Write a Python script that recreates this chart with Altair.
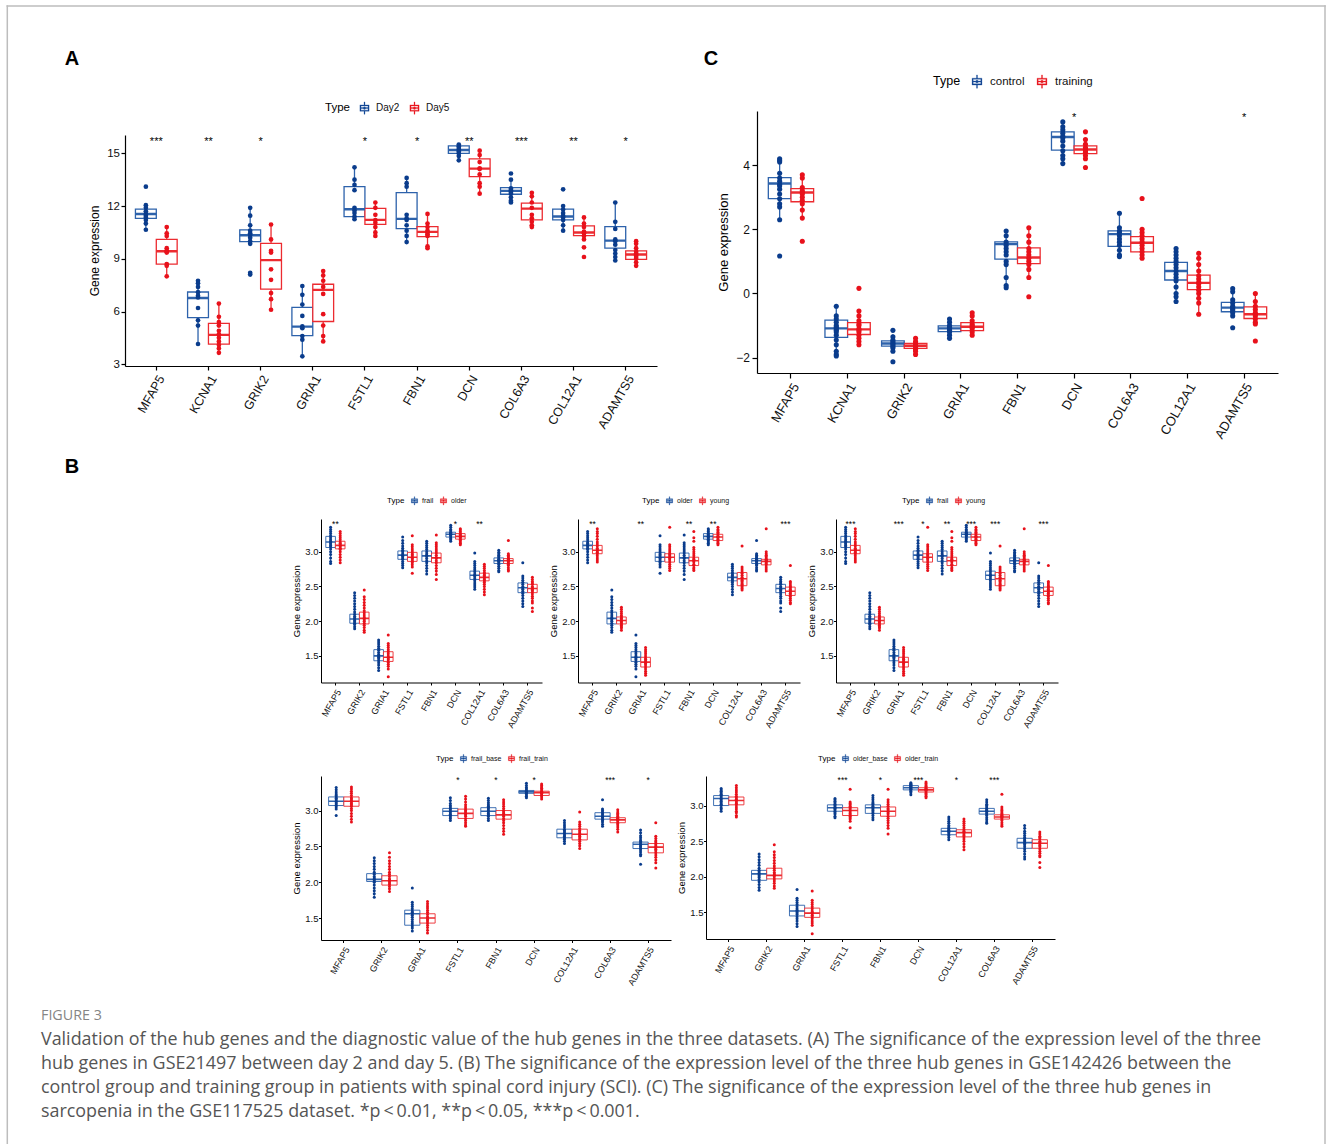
import altair as alt
import pandas as pd

FONT = "Liberation Sans"
CAP_FONT = "Open Sans"
BLUE_BOX, RED_BOX = "#2d62ab", "#ec2b30"
BLUE_PT, RED_PT = "#0a3c8c", "#e8111b"
FRAME = "#bdbdbd"
# boxplot key glyph drawn as filled shapes: box frame (with hole), median bar, whiskers and a dot
SYMBOL = ("M-0.75,-0.52H0.75V0.52H-0.75Z M-0.57,-0.34V0.34H0.57V-0.34Z "
          "M-0.57,-0.08H0.57V0.08H-0.57Z M-0.08,-1H0.08V-0.52H-0.08Z M-0.08,0.52H0.08V1H-0.08Z "
          "M0.22,0A0.22,0.22 0 1 1 -0.22,0A0.22,0.22 0 1 1 0.22,0Z")

# ---------------- Panel A (GSE21497) ----------------
A_genes = ["MFAP5", "KCNA1", "GRIK2", "GRIA1", "FSTL1", "FBN1", "DCN", "COL6A3", "COL12A1", "ADAMTS5"]
A_groups = ["Day2", "Day5"]
A_stars = ["***", "**", "*", "", "*", "*", "**", "***", "**", "*"]
# (lower whisker, q1, median, q3, upper whisker)
A_box = {
    "Day2": [(10.64, 11.3, 11.55, 11.82, 12.05), (4.16, 5.65, 6.77, 7.11, 7.8), (9.82, 9.98, 10.34, 10.64, 11.93),
             (3.44, 4.63, 5.14, 6.24, 7.51), (11.25, 11.4, 11.82, 13.1, 14.24), (9.98, 10.72, 11.27, 12.76, 13.64),
             (14.58, 15.0, 15.19, 15.42, 15.53), (12.19, 12.67, 12.86, 13.05, 13.5), (10.64, 11.21, 11.4, 11.82, 12.0),
             (8.93, 9.6, 10.03, 10.83, 12.21)],
    "Day5": [(8.02, 8.69, 9.43, 10.1, 10.87), (3.63, 4.14, 4.67, 5.33, 6.53), (6.09, 7.27, 8.92, 9.88, 11.0),
             (4.29, 5.43, 7.23, 7.55, 8.36), (10.26, 10.96, 11.21, 11.87, 12.25), (9.56, 10.26, 10.53, 10.83, 11.59),
             (12.69, 13.67, 14.13, 14.68, 15.19), (10.77, 11.21, 11.85, 12.16, 12.82), (10.07, 10.32, 10.49, 10.87, 11.4),
             (8.55, 8.97, 9.24, 9.45, 10.07)],
}
A_pts = {
    "Day2": [[13.1, 12.05, 11.9, 11.7, 11.55, 11.45, 11.35, 11.2, 11.0, 10.65],
             [7.75, 7.6, 7.4, 7.1, 6.9, 6.8, 6.2, 5.5, 5.2, 4.15],
             [11.9, 11.45, 10.9, 10.6, 10.45, 10.35, 10.2, 10.0, 9.85, 8.2, 8.1],
             [7.45, 6.95, 6.4, 5.75, 5.15, 5.05, 4.6, 4.4, 3.45],
             [14.2, 13.5, 13.2, 12.9, 11.9, 11.75, 11.6, 11.4, 11.25],
             [13.6, 13.3, 13.1, 11.5, 11.3, 11.2, 10.9, 10.6, 10.3, 9.95],
             [15.5, 15.4, 15.3, 15.2, 15.1, 15.0, 14.85, 14.6],
             [13.85, 13.5, 13.0, 12.9, 12.8, 12.7, 12.5, 12.3, 12.2],
             [12.95, 12.0, 11.8, 11.6, 11.45, 11.35, 11.2, 10.9, 10.6],
             [12.2, 11.1, 10.7, 10.1, 10.0, 9.8, 9.5, 9.3, 9.1, 8.9]],
    "Day5": [[10.8, 10.45, 10.3, 9.6, 9.45, 9.4, 9.35, 8.7, 8.6, 8.0],
             [6.45, 5.7, 5.4, 5.2, 4.9, 4.7, 4.5, 4.3, 4.1, 3.9, 3.65],
             [10.95, 10.1, 9.45, 9.35, 8.4, 7.8, 7.05, 6.7, 6.1],
             [8.3, 8.05, 7.75, 7.4, 7.0, 5.85, 5.2, 4.6, 4.3],
             [12.2, 11.9, 11.5, 11.2, 11.05, 10.8, 10.5, 10.3],
             [11.55, 11.0, 10.8, 10.6, 10.5, 10.4, 10.3, 9.7, 9.6],
             [15.15, 14.9, 14.5, 14.15, 14.1, 13.8, 13.3, 13.1, 12.7],
             [12.75, 12.55, 12.2, 11.9, 11.5, 11.3, 11.1, 10.9, 10.8],
             [11.35, 11.0, 10.8, 10.55, 10.45, 10.3, 10.1, 9.65, 9.1],
             [10.0, 9.85, 9.6, 9.4, 9.3, 9.2, 9.1, 9.0, 8.8, 8.6]],
}
A_yticks = [3, 6, 9, 12, 15]

# ---------------- Panel C (GSE117525) ----------------
C_genes = ["MFAP5", "KCNA1", "GRIK2", "GRIA1", "FBN1", "DCN", "COL6A3", "COL12A1", "ADAMTS5"]
C_groups = ["control", "training"]
C_stars = ["", "", "", "", "", "*", "", "", "*"]
C_box = {
    "control": [(2.28, 2.96, 3.43, 3.61, 4.2), (-1.95, -1.37, -1.09, -0.83, -0.38), (-1.82, -1.64, -1.56, -1.48, -1.27),
                (-1.43, -1.19, -1.09, -1.01, -0.78), (0.16, 1.07, 1.54, 1.61, 1.97), (4.05, 4.47, 4.88, 5.04, 5.38),
                (1.14, 1.47, 1.85, 1.95, 2.51), (-0.26, 0.42, 0.7, 0.97, 1.42), (-0.7, -0.57, -0.44, -0.28, 0.16)],
    "training": [(2.37, 2.86, 3.15, 3.27, 3.76), (-1.61, -1.28, -1.12, -0.91, -0.55), (-1.92, -1.71, -1.63, -1.56, -1.37),
                 (-1.33, -1.16, -1.04, -0.91, -0.57), (0.5, 0.93, 1.12, 1.42, 2.08), (4.2, 4.36, 4.49, 4.6, 4.81),
                 (1.09, 1.3, 1.58, 1.77, 2.06), (-0.62, 0.12, 0.33, 0.57, 1.27), (-0.96, -0.78, -0.65, -0.42, 0.0)],
}
C_pts = {
    "control": [[4.2, 4.15, 4.1, 3.75, 3.6, 3.5, 3.4, 3.35, 3.25, 3.1, 2.95, 2.8, 2.7, 2.3, 1.17],
                [-0.4, -0.7, -0.8, -0.9, -1.0, -1.05, -1.1, -1.15, -1.2, -1.3, -1.45, -1.6, -1.8, -1.9, -1.95],
                [-1.15, -1.35, -1.45, -1.5, -1.55, -1.6, -1.65, -1.7, -1.8, -2.13],
                [-0.8, -0.9, -1.0, -1.05, -1.1, -1.15, -1.2, -1.3, -1.4],
                [1.95, 1.8, 1.6, 1.5, 1.4, 1.3, 1.2, 1.0, 0.9, 0.5, 0.25, 0.18],
                [5.35, 5.2, 5.1, 5.0, 4.9, 4.85, 4.75, 4.6, 4.45, 4.3, 4.2, 4.05],
                [2.5, 2.05, 1.95, 1.9, 1.8, 1.7, 1.6, 1.5, 1.35, 1.2, 1.15],
                [1.4, 1.3, 1.2, 1.1, 1.0, 0.9, 0.8, 0.7, 0.6, 0.5, 0.4, 0.2, 0.0, -0.1, -0.25],
                [0.15, 0.05, -0.2, -0.3, -0.4, -0.45, -0.5, -0.55, -0.6, -0.7, -1.07]],
    "training": [[3.7, 3.6, 3.3, 3.2, 3.15, 3.1, 3.0, 2.9, 2.8, 2.6, 2.35, 1.63],
                 [0.16, -0.55, -0.7, -0.85, -0.95, -1.0, -1.1, -1.15, -1.2, -1.3, -1.4, -1.5, -1.6],
                 [-1.4, -1.5, -1.55, -1.6, -1.65, -1.7, -1.75, -1.8, -1.9],
                 [-0.6, -0.7, -0.85, -0.95, -1.0, -1.05, -1.1, -1.2, -1.3],
                 [2.05, 1.8, 1.6, 1.4, 1.3, 1.2, 1.1, 1.0, 0.9, 0.75, 0.5, -0.1],
                 [5.04, 4.8, 4.65, 4.55, 4.5, 4.45, 4.4, 4.3, 4.2, 3.93],
                 [2.96, 2.0, 1.9, 1.8, 1.7, 1.6, 1.5, 1.4, 1.3, 1.2, 1.1],
                 [1.25, 1.1, 0.9, 0.7, 0.55, 0.45, 0.35, 0.3, 0.2, 0.1, 0.0, -0.15, -0.3, -0.65],
                 [0.0, -0.25, -0.4, -0.5, -0.6, -0.65, -0.7, -0.8, -0.9, -0.95, -1.48]],
}
C_yticks = [-2, 0, 2, 4]

# ---------------- Panel B (GSE142426) ----------------
B_genes = ["MFAP5", "GRIK2", "GRIA1", "FSTL1", "FBN1", "DCN", "COL12A1", "COL6A3", "ADAMTS5"]
B_yticks = [1.5, 2.0, 2.5, 3.0]
B_box = {
    "frail": [(2.83, 3.06, 3.14, 3.22, 3.35), (1.88, 1.97, 2.03, 2.1, 2.26), (1.29, 1.43, 1.5, 1.59, 1.73),
              (2.78, 2.89, 2.95, 3.01, 3.16), (2.67, 2.86, 2.94, 3.01, 3.15), (3.15, 3.21, 3.25, 3.28, 3.38),
              (2.46, 2.6, 2.66, 2.72, 2.86), (2.71, 2.83, 2.87, 2.91, 3.02), (2.21, 2.41, 2.48, 2.55, 2.65)],
    "older": [(2.84, 3.04, 3.09, 3.15, 3.29), (1.84, 1.96, 2.04, 2.13, 2.35), (1.3, 1.42, 1.48, 1.56, 1.68),
              (2.78, 2.86, 2.92, 2.99, 3.1), (2.67, 2.84, 2.91, 2.98, 3.13), (3.1, 3.18, 3.22, 3.26, 3.33),
              (2.38, 2.58, 2.63, 2.69, 2.82), (2.72, 2.83, 2.87, 2.9, 2.97), (2.26, 2.41, 2.47, 2.53, 2.63)],
    "young": [(2.85, 2.97, 3.02, 3.09, 3.26), (1.87, 1.96, 2.01, 2.06, 2.2), (1.22, 1.34, 1.41, 1.48, 1.62),
              (2.73, 2.85, 2.92, 2.97, 3.1), (2.73, 2.8, 2.87, 2.92, 3.06), (3.1, 3.16, 3.21, 3.25, 3.35),
              (2.45, 2.51, 2.61, 2.7, 2.78), (2.72, 2.81, 2.86, 2.89, 3.0), (2.25, 2.37, 2.43, 2.49, 2.57)],
    "frail_base": [(3.02, 3.07, 3.13, 3.19, 3.32), (1.79, 2.01, 2.04, 2.12, 2.34), (1.32, 1.4, 1.56, 1.61, 1.72),
                   (2.86, 2.93, 2.99, 3.03, 3.18), (2.86, 2.93, 2.99, 3.04, 3.17), (3.18, 3.24, 3.26, 3.28, 3.38),
                   (2.54, 2.62, 2.68, 2.74, 2.86), (2.78, 2.88, 2.92, 2.97, 3.02), (2.37, 2.47, 2.53, 2.56, 2.73)],
    "frail_train": [(2.84, 3.06, 3.13, 3.19, 3.33), (1.87, 1.96, 2.02, 2.09, 2.3), (1.29, 1.43, 1.5, 1.56, 1.73),
                    (2.78, 2.89, 2.96, 3.02, 3.2), (2.67, 2.88, 2.94, 3.0, 3.15), (3.16, 3.21, 3.25, 3.27, 3.37),
                    (2.47, 2.59, 2.67, 2.74, 2.84), (2.7, 2.83, 2.87, 2.9, 3.01), (2.27, 2.41, 2.49, 2.54, 2.64)],
    "older_base": [(2.92, 3.0, 3.1, 3.14, 3.24), (1.81, 1.95, 2.04, 2.09, 2.32), (1.3, 1.45, 1.52, 1.6, 1.7),
                   (2.83, 2.92, 2.97, 3.01, 3.1), (2.8, 2.89, 2.97, 3.01, 3.14), (3.15, 3.22, 3.25, 3.28, 3.32),
                   (2.52, 2.59, 2.64, 2.68, 2.84), (2.75, 2.88, 2.92, 2.96, 3.08), (2.25, 2.4, 2.48, 2.54, 2.72)],
    "older_train": [(2.9, 3.01, 3.07, 3.12, 3.28), (1.84, 1.97, 2.02, 2.12, 2.35), (1.3, 1.43, 1.49, 1.56, 1.67),
                    (2.78, 2.86, 2.93, 2.97, 3.05), (2.68, 2.85, 2.92, 2.98, 3.08), (3.11, 3.19, 3.22, 3.25, 3.33),
                    (2.38, 2.56, 2.62, 2.66, 2.81), (2.71, 2.81, 2.84, 2.87, 2.98), (2.28, 2.4, 2.47, 2.52, 2.63)],
}
B_pts = {
    "frail": [[3.35, 3.32, 3.29, 3.26, 3.23, 3.2, 3.17, 3.15, 3.13, 3.11, 3.09, 3.07, 3.04, 3.0, 2.96, 2.91, 2.86, 2.83],
              [2.41, 2.37, 2.33, 2.29, 2.25, 2.21, 2.17, 2.13, 2.1, 2.07, 2.05, 2.03, 2.01, 1.99, 1.97, 1.95, 1.92, 1.89],
              [1.73, 1.7, 1.67, 1.64, 1.61, 1.58, 1.55, 1.52, 1.5, 1.48, 1.46, 1.43, 1.4, 1.37, 1.33, 1.29],
              [3.21, 3.16, 3.12, 3.08, 3.05, 3.02, 3.0, 2.97, 2.95, 2.93, 2.91, 2.89, 2.86, 2.83, 2.8, 2.77],
              [3.15, 3.12, 3.09, 3.06, 3.03, 3.0, 2.97, 2.95, 2.93, 2.9, 2.87, 2.84, 2.8, 2.76, 2.72, 2.68],
              [3.38, 3.35, 3.32, 3.3, 3.28, 3.27, 3.26, 3.25, 3.24, 3.23, 3.21, 3.19, 3.17, 3.15],
              [2.98, 2.86, 2.83, 2.8, 2.77, 2.74, 2.71, 2.68, 2.66, 2.64, 2.61, 2.58, 2.55, 2.52, 2.49, 2.46],
              [3.02, 2.99, 2.97, 2.95, 2.93, 2.91, 2.89, 2.88, 2.87, 2.86, 2.84, 2.82, 2.79, 2.76, 2.73, 2.71],
              [2.84, 2.65, 2.62, 2.59, 2.56, 2.53, 2.5, 2.48, 2.46, 2.43, 2.4, 2.37, 2.33, 2.29, 2.25, 2.21]],
    "older": [[3.29, 3.26, 3.23, 3.2, 3.17, 3.14, 3.12, 3.1, 3.09, 3.07, 3.05, 3.03, 3.0, 2.96, 2.92, 2.88, 2.84],
              [2.45, 2.35, 2.31, 2.27, 2.23, 2.19, 2.15, 2.12, 2.09, 2.06, 2.04, 2.02, 2.0, 1.97, 1.94, 1.91, 1.87, 1.84],
              [1.8, 1.68, 1.65, 1.62, 1.59, 1.56, 1.53, 1.5, 1.48, 1.46, 1.44, 1.41, 1.38, 1.35, 1.31, 1.2],
              [3.23, 3.1, 3.07, 3.04, 3.01, 2.98, 2.96, 2.94, 2.92, 2.9, 2.88, 2.86, 2.84, 2.81, 2.78, 2.69],
              [3.24, 3.13, 3.1, 3.07, 3.04, 3.01, 2.98, 2.95, 2.92, 2.9, 2.87, 2.84, 2.8, 2.76, 2.72, 2.67, 2.6],
              [3.33, 3.31, 3.29, 3.27, 3.25, 3.23, 3.22, 3.21, 3.2, 3.18, 3.16, 3.14, 3.12, 3.1],
              [2.82, 2.79, 2.76, 2.73, 2.7, 2.68, 2.66, 2.64, 2.62, 2.6, 2.58, 2.56, 2.53, 2.5, 2.46, 2.42, 2.38],
              [3.16, 2.97, 2.95, 2.93, 2.91, 2.9, 2.89, 2.88, 2.87, 2.86, 2.84, 2.82, 2.8, 2.77, 2.74, 2.72],
              [2.63, 2.6, 2.57, 2.55, 2.53, 2.5, 2.48, 2.46, 2.44, 2.42, 2.39, 2.36, 2.33, 2.29, 2.26, 2.19, 2.14]],
    "young": [[3.33, 3.29, 3.26, 3.22, 3.18, 3.14, 3.11, 3.08, 3.05, 3.03, 3.01, 2.99, 2.97, 2.94, 2.91, 2.88, 2.85],
              [2.2, 2.17, 2.14, 2.11, 2.08, 2.06, 2.04, 2.02, 2.0, 1.98, 1.96, 1.94, 1.92, 1.9, 1.87],
              [1.62, 1.59, 1.56, 1.53, 1.5, 1.47, 1.45, 1.43, 1.41, 1.39, 1.37, 1.34, 1.31, 1.28, 1.25, 1.22],
              [3.35, 3.1, 3.07, 3.04, 3.01, 2.98, 2.96, 2.94, 2.92, 2.9, 2.88, 2.85, 2.82, 2.79, 2.76, 2.73],
              [3.29, 3.2, 3.15, 3.06, 3.03, 3.0, 2.97, 2.94, 2.91, 2.89, 2.87, 2.85, 2.82, 2.8, 2.77, 2.75, 2.73],
              [3.35, 3.32, 3.3, 3.28, 3.26, 3.24, 3.22, 3.21, 3.2, 3.18, 3.16, 3.14, 3.12, 3.1],
              [3.08, 2.78, 2.75, 2.72, 2.69, 2.66, 2.63, 2.61, 2.59, 2.57, 2.55, 2.53, 2.51, 2.49, 2.47, 2.45],
              [3.33, 3.0, 2.97, 2.95, 2.93, 2.91, 2.89, 2.88, 2.87, 2.86, 2.85, 2.83, 2.81, 2.78, 2.75, 2.72],
              [2.8, 2.57, 2.55, 2.52, 2.5, 2.48, 2.46, 2.44, 2.42, 2.4, 2.38, 2.36, 2.33, 2.3, 2.27, 2.25]],
    "frail_base": [[3.32, 3.29, 3.26, 3.23, 3.21, 3.19, 3.17, 3.15, 3.13, 3.11, 3.09, 3.07, 3.05, 3.02, 2.93],
                   [2.34, 2.3, 2.26, 2.22, 2.18, 2.14, 2.11, 2.08, 2.06, 2.04, 2.02, 2.0, 1.96, 1.92, 1.88, 1.84, 1.79],
                   [1.92, 1.72, 1.69, 1.66, 1.63, 1.6, 1.58, 1.56, 1.54, 1.51, 1.48, 1.45, 1.42, 1.39, 1.36, 1.32],
                   [3.18, 3.14, 3.1, 3.07, 3.05, 3.03, 3.01, 2.99, 2.97, 2.95, 2.93, 2.91, 2.89, 2.86],
                   [3.17, 3.14, 3.11, 3.08, 3.06, 3.04, 3.02, 3.0, 2.98, 2.96, 2.94, 2.92, 2.89, 2.86],
                   [3.38, 3.35, 3.32, 3.3, 3.28, 3.27, 3.26, 3.25, 3.24, 3.22, 3.2, 3.18],
                   [2.86, 2.83, 2.8, 2.77, 2.74, 2.72, 2.7, 2.68, 2.66, 2.64, 2.62, 2.6, 2.57, 2.54],
                   [3.15, 3.02, 3.0, 2.98, 2.96, 2.94, 2.92, 2.91, 2.9, 2.88, 2.86, 2.84, 2.81, 2.78],
                   [2.73, 2.69, 2.65, 2.62, 2.59, 2.57, 2.55, 2.53, 2.51, 2.49, 2.47, 2.45, 2.42, 2.39, 2.37, 2.25]],
    "frail_train": [[3.33, 3.3, 3.27, 3.24, 3.21, 3.18, 3.16, 3.14, 3.12, 3.1, 3.08, 3.06, 3.03, 3.0, 2.96, 2.92, 2.88, 2.84],
                    [2.41, 2.35, 2.3, 2.26, 2.22, 2.18, 2.14, 2.11, 2.08, 2.05, 2.03, 2.01, 1.99, 1.97, 1.94, 1.91, 1.87],
                    [1.73, 1.7, 1.67, 1.64, 1.61, 1.58, 1.55, 1.52, 1.5, 1.48, 1.46, 1.43, 1.4, 1.37, 1.33, 1.29],
                    [3.2, 3.16, 3.12, 3.08, 3.05, 3.02, 3.0, 2.98, 2.96, 2.94, 2.92, 2.89, 2.86, 2.83, 2.8, 2.78],
                    [3.15, 3.12, 3.09, 3.06, 3.03, 3.0, 2.98, 2.96, 2.94, 2.92, 2.89, 2.86, 2.83, 2.79, 2.75, 2.71, 2.67],
                    [3.37, 3.35, 3.33, 3.31, 3.29, 3.27, 3.26, 3.25, 3.24, 3.23, 3.21, 3.19, 3.16],
                    [2.98, 2.84, 2.81, 2.78, 2.75, 2.72, 2.7, 2.68, 2.66, 2.64, 2.62, 2.6, 2.57, 2.54, 2.51, 2.47],
                    [3.01, 2.98, 2.96, 2.94, 2.92, 2.9, 2.89, 2.88, 2.87, 2.86, 2.84, 2.82, 2.8, 2.77, 2.74, 2.7],
                    [2.83, 2.64, 2.61, 2.58, 2.56, 2.54, 2.52, 2.5, 2.48, 2.46, 2.44, 2.41, 2.38, 2.35, 2.31, 2.27, 2.2]],
    "older_base": [[3.24, 3.22, 3.2, 3.18, 3.16, 3.14, 3.12, 3.1, 3.08, 3.06, 3.04, 3.02, 3.0, 2.97, 2.95, 2.92],
                   [2.32, 2.28, 2.24, 2.2, 2.16, 2.12, 2.09, 2.07, 2.05, 2.03, 2.01, 1.99, 1.96, 1.93, 1.89, 1.85, 1.81],
                   [1.82, 1.7, 1.67, 1.64, 1.61, 1.58, 1.55, 1.53, 1.51, 1.49, 1.47, 1.44, 1.41, 1.38, 1.34, 1.3],
                   [3.1, 3.08, 3.06, 3.04, 3.02, 3.0, 2.98, 2.97, 2.96, 2.94, 2.92, 2.9, 2.88, 2.85, 2.83],
                   [3.14, 3.11, 3.08, 3.05, 3.03, 3.01, 2.99, 2.97, 2.95, 2.93, 2.91, 2.89, 2.86, 2.83, 2.8],
                   [3.32, 3.31, 3.3, 3.29, 3.28, 3.27, 3.26, 3.25, 3.24, 3.23, 3.22, 3.2, 3.18, 3.15],
                   [2.84, 2.81, 2.78, 2.75, 2.72, 2.7, 2.68, 2.66, 2.65, 2.64, 2.62, 2.6, 2.58, 2.55, 2.52],
                   [3.08, 3.05, 3.02, 3.0, 2.98, 2.96, 2.94, 2.93, 2.92, 2.9, 2.88, 2.86, 2.83, 2.8, 2.77, 2.75],
                   [2.72, 2.68, 2.64, 2.61, 2.58, 2.55, 2.53, 2.51, 2.49, 2.47, 2.45, 2.42, 2.39, 2.36, 2.32, 2.28, 2.25]],
    "older_train": [[3.28, 3.25, 3.22, 3.19, 3.16, 3.13, 3.11, 3.09, 3.07, 3.05, 3.03, 3.01, 2.98, 2.95, 2.92, 2.9, 2.86, 2.84],
                    [2.45, 2.35, 2.31, 2.27, 2.23, 2.19, 2.15, 2.12, 2.09, 2.06, 2.04, 2.02, 2.0, 1.97, 1.94, 1.91, 1.87, 1.84],
                    [1.8, 1.67, 1.64, 1.61, 1.58, 1.55, 1.52, 1.5, 1.48, 1.46, 1.44, 1.41, 1.38, 1.35, 1.32, 1.2],
                    [3.23, 3.05, 3.03, 3.01, 2.99, 2.97, 2.95, 2.93, 2.91, 2.89, 2.87, 2.85, 2.83, 2.81, 2.78, 2.69],
                    [3.23, 3.08, 3.05, 3.02, 2.99, 2.96, 2.94, 2.92, 2.9, 2.88, 2.85, 2.82, 2.79, 2.76, 2.72, 2.68, 2.6],
                    [3.33, 3.31, 3.29, 3.27, 3.25, 3.24, 3.23, 3.22, 3.21, 3.19, 3.17, 3.15, 3.13, 3.11],
                    [2.81, 2.78, 2.75, 2.72, 2.69, 2.66, 2.64, 2.62, 2.6, 2.58, 2.56, 2.53, 2.5, 2.46, 2.42, 2.38],
                    [3.16, 2.98, 2.95, 2.93, 2.91, 2.89, 2.87, 2.86, 2.85, 2.84, 2.83, 2.81, 2.79, 2.76, 2.73, 2.71],
                    [2.63, 2.6, 2.57, 2.55, 2.53, 2.5, 2.48, 2.46, 2.44, 2.42, 2.39, 2.36, 2.33, 2.3, 2.28, 2.2, 2.13]],
}
B_stars = {
    "B1": ["**", "", "", "", "", "*", "**", "", ""],
    "B2": ["**", "", "**", "", "**", "**", "", "", "***"],
    "B3": ["***", "", "***", "*", "**", "***", "***", "", "***"],
    "B4": ["", "", "", "*", "*", "*", "", "***", "*"],
    "B5": ["", "", "", "***", "*", "***", "*", "***", ""],
}

FIG_LABEL = "FIGURE 3"
CAPTION = [
    "Validation of the hub genes and the diagnostic value of the hub genes in the three datasets. (A) The significance of the expression level of the three",
    "hub genes in GSE21497 between day 2 and day 5. (B) The significance of the expression level of the three hub genes in GSE142426 between the",
    "control group and training group in patients with spinal cord injury (SCI). (C) The significance of the expression level of the three hub genes in",
    "sarcopenia in the GSE117525 dataset. *p\u2009<\u20090.01, **p\u2009<\u20090.05, ***p\u2009<\u20090.001.",
]

STYLE_A = dict(cat=12.5, ytick=11.5, title=12, tick=4, aw=1.2, lpad=3, ypad=1.5, tpad=5, sw=1.3, msw=2.4, ps=22,
               star=11, ltitle=11.5, llabel=10, lsym=150, ltp=8, loff=5, lcol=8)
STYLE_C = dict(cat=13, ytick=12, title=13, tick=5, aw=1.2, lpad=3, ypad=2.5, tpad=5.5, sw=1.3, msw=2.4, ps=26,
               star=11, ltitle=12.5, llabel=11.5, lsym=175, ltp=9, loff=6, lcol=10)
STYLE_B = dict(cat=9, ytick=9.5, title=9.5, tick=2.5, aw=1.0, lpad=3, ypad=0.5, tpad=3.5, sw=0.9, msw=1.6, ps=9,
               star=8.5, ltitle=8, llabel=7, lsym=70, ltp=5, loff=3, lcol=5)


def panel(genes, groups, box, pts, stars, w, h, ydom, yticks, yfmt, st, leg_xy, star_y, extras=(), yrange=None):
    bdf = pd.DataFrame([dict(gene=gn, grp=g, lo=s[0], q1=s[1], med=s[2], q3=s[3], hi=s[4])
                        for g in groups for gn, s in zip(genes, box[g])])
    pdf = pd.DataFrame([dict(gene=gn, grp=g, val=v)
                        for g in groups for gn, vals in zip(genes, pts[g]) for v in vals])
    sdf = pd.DataFrame({"gene": genes, "star": stars})
    xax = alt.Axis(title=None, labelAngle=300, labelAlign="right", labelBaseline="top", labelFont=FONT,
                   labelFontSize=st["cat"], labelColor="#111111", labelPadding=st["lpad"], tickSize=st["tick"],
                   tickColor="black", tickWidth=st["aw"], domainColor="black", domainWidth=st["aw"], grid=False)
    X = alt.X("gene:N", sort=genes, scale=alt.Scale(domain=genes, paddingInner=0, paddingOuter=0.1), axis=xax)
    XO = alt.XOffset("grp:N", sort=groups, scale=alt.Scale(domain=groups, paddingInner=0, paddingOuter=0.25))
    if yrange is None:
        ysc = alt.Scale(domain=ydom, nice=False, zero=False)
    else:
        ysc = alt.Scale(domain=ydom, nice=False, zero=False, range=yrange)
    yax = alt.Axis(values=yticks, format=yfmt, title="Gene expression", titleFont=FONT, titleFontSize=st["title"],
                   titleFontWeight="normal", titleColor="black", titlePadding=st["tpad"], labelFont=FONT,
                   labelFontSize=st["ytick"], labelColor="#111111", labelPadding=st["ypad"], tickSize=st["tick"],
                   tickColor="black", tickWidth=st["aw"], domainColor="black", domainWidth=st["aw"], grid=False)
    leg = alt.Legend(orient="none", legendX=leg_xy[0], legendY=leg_xy[1], direction="horizontal", title="Type",
                     titleOrient="left", titleFont=FONT, titleFontSize=st["ltitle"], titleFontWeight="normal",
                     titleColor="black", titlePadding=st["ltp"], labelFont=FONT, labelFontSize=st["llabel"],
                     labelColor="#111111", labelOffset=st["loff"], columnPadding=st["lcol"], symbolType=SYMBOL,
                     symbolSize=st["lsym"], symbolStrokeWidth=0.3)
    sscale = alt.Scale(domain=groups, range=[BLUE_BOX, RED_BOX])
    base = alt.Chart(bdf)
    whisk = base.mark_rule(strokeWidth=st["sw"]).encode(
        x=X, xOffset=XO, y=alt.Y("lo:Q", scale=ysc, axis=yax), y2="hi:Q",
        stroke=alt.Stroke("grp:N", scale=sscale, legend=leg))
    boxes = base.mark_bar(fill="white", strokeWidth=st["sw"]).encode(
        x=X, xOffset=XO, y=alt.Y("q1:Q", scale=ysc, axis=yax), y2="q3:Q",
        stroke=alt.Stroke("grp:N", scale=sscale, legend=None))
    meds = base.mark_bar(fillOpacity=0, strokeWidth=st["msw"]).encode(
        x=X, xOffset=XO, y=alt.Y("med:Q", scale=ysc, axis=yax), y2="med:Q",
        stroke=alt.Stroke("grp:N", scale=sscale, legend=None))
    dots = alt.Chart(pdf).mark_circle(size=st["ps"], opacity=1).encode(
        x=X, xOffset=XO, y=alt.Y("val:Q", scale=ysc, axis=yax),
        color=alt.Color("grp:N", scale=alt.Scale(domain=groups, range=[BLUE_PT, RED_PT]), legend=None))
    txt = alt.Chart(sdf).mark_text(font=FONT, fontSize=st["star"], color="black", baseline="middle").encode(
        x=X, y=alt.value(star_y), text="star:N")
    return alt.layer(whisk, boxes, meds, dots, txt, *extras).properties(width=w, height=h)


def letter(t, x, y):
    return alt.Chart(pd.DataFrame({"t": [t]})).mark_text(
        font=FONT, fontSize=20, fontWeight="bold", color="black", align="center", baseline="middle"
    ).encode(x=alt.value(x), y=alt.value(y), text="t:N")


def spacer(w, h):
    return alt.Chart(pd.DataFrame({"s": [0]})).mark_point(opacity=0).properties(width=w, height=h)


ONE = pd.DataFrame({"f": [0]})
FR_L, FR_R, FR_T, FR_W = 7.3, 1325, 6, 1.5


def rect(x, x2, y, y2, **kw):
    return alt.Chart(ONE).mark_rect(**kw).encode(
        x=alt.value(x), x2=alt.value(x2), y=alt.value(y), y2=alt.value(y2))


def band(ox, oy, top, bot, with_top=False):
    """Invisible extent of one row plus its share of the figure frame (relative to the row origin)."""
    t = max(top, FR_T - FR_W / 2)
    items = [
        rect(-ox, 1333 - ox, top - oy, bot - oy, opacity=0),
        rect(FR_L - FR_W / 2 - ox, FR_L + FR_W / 2 - ox, t - oy, bot - oy, fill=FRAME),
        rect(FR_R - FR_W / 2 - ox, FR_R + FR_W / 2 - ox, t - oy, bot - oy, fill=FRAME),
    ]
    if with_top:
        items.append(rect(FR_L - FR_W / 2 - ox, FR_R + FR_W / 2 - ox, FR_T - FR_W / 2 - oy, FR_T + FR_W / 2 - oy,
                          fill=FRAME))
    return items


RES = dict(x="independent", y="independent", xOffset="independent", color="independent", stroke="independent")

# row 1 : A and C  (row origin = top-left of panel A's view, at the top of panel C's plot)
pA = panel(A_genes, A_groups, A_box, A_pts, A_stars, 532, 255, [2.9, 16.04], A_yticks, "d", STYLE_A,
           (200, -9.8), 31, yrange=[255, 24],
           extras=[letter("A", -53, -52)] + band(125, 111, 0, 450, with_top=True))
pC = panel(C_genes, C_groups, C_box, C_pts, C_stars, 521, 262, [-2.48, 5.69], C_yticks, "d", STYLE_C,
           (176, -36.8), 7, extras=(letter("C", -46, -52),))

B_dom = [1.117, 3.47]
pB1 = panel(B_genes, ["frail", "older"], B_box, B_pts, B_stars["B1"], 221, 163.5, B_dom, B_yticks, ".1f", STYLE_B,
            (66, -23), 4.7, extras=[letter("B", -249, -52)] + band(321, 519, 450, 737))
pB2 = panel(B_genes, ["older", "young"], B_box, B_pts, B_stars["B2"], 222, 163.5, B_dom, B_yticks, ".1f", STYLE_B,
            (64, -23), 4.7)
pB3 = panel(B_genes, ["frail", "young"], B_box, B_pts, B_stars["B3"], 222, 163.5, B_dom, B_yticks, ".1f", STYLE_B,
            (66, -23), 4.7)
pB4 = panel(B_genes, ["frail_base", "frail_train"], B_box, B_pts, B_stars["B4"], 350, 164, [1.194, 3.482],
            B_yticks, ".1f", STYLE_B, (115, -22.3), 4.3, extras=band(321, 776, 737, 995))
pB5 = panel(B_genes, ["older_base", "older_train"], B_box, B_pts, B_stars["B5"], 349, 163, [1.126, 3.415],
            B_yticks, ".1f", STYLE_B, (112, -22.3), 4.3)

cap_y = alt.Y("row:O", scale=alt.Scale(domain=[0, 1, 2, 3, 4], type="point", padding=0), axis=None)
cap_head = alt.Chart(pd.DataFrame({"row": [0], "text": [FIG_LABEL]})).mark_text(
    align="left", baseline="middle", font=CAP_FONT, fontSize=14.3, color="#858585").encode(
    x=alt.value(-84), y=cap_y, text="text:N")
cap_body = alt.Chart(pd.DataFrame({"row": [1, 2, 3, 4], "text": CAPTION})).mark_text(
    align="left", baseline="middle", font=CAP_FONT, fontSize=17.9, color="#555555").encode(
    x=alt.value(-84), y=cap_y, text="text:N")
caption = alt.layer(cap_head, cap_body, *band(125, 1016, 995, 1144)).properties(width=1100, height=96)

row1 = alt.hconcat(pA, pC, spacing=100, bounds="flush").resolve_scale(**RES)
row2 = alt.hconcat(spacer(160, 1), pB1, pB2, pB3, spacing=36, bounds="flush").resolve_scale(**RES)
row3 = alt.hconcat(spacer(161, 1), pB4, pB5, spacing=35, bounds="flush").resolve_scale(**RES)

chart = alt.vconcat(row1, row2, row3, caption, spacing=0, bounds="full").resolve_scale(**RES).properties(
    padding=0, background="white"
).configure(font=FONT).configure_view(strokeWidth=0, stroke=None)

chart.save("out.html", embed_options={"renderer": "svg", "actions": False})
